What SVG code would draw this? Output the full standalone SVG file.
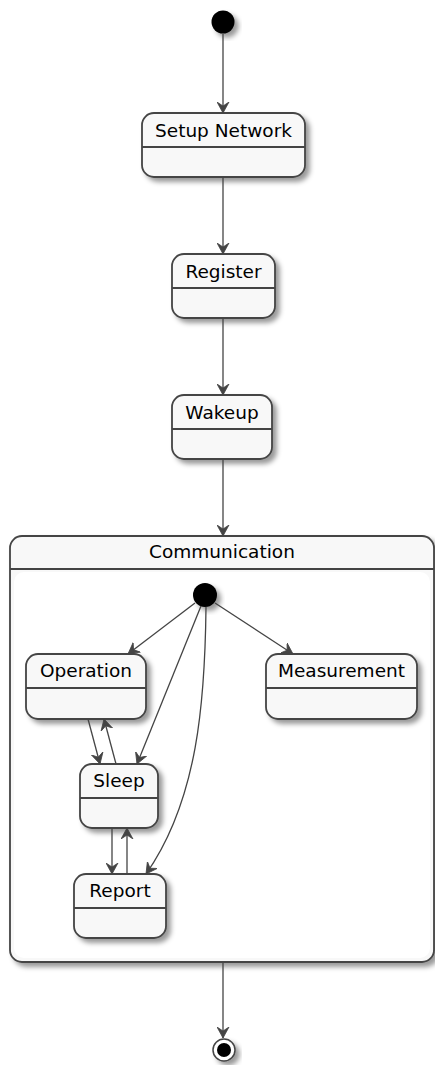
<svg xmlns="http://www.w3.org/2000/svg" width="435" height="1065" viewBox="0 0 435 1065">
  <style>
    .state { fill: #F8F8F8; stroke: #444444; stroke-width: 1.8; }
    .sep { stroke: #444444; stroke-width: 1.8; }
    .label { font-family: "DejaVu Sans", sans-serif; font-size: 18.5px; fill: #000000; text-anchor: middle; }
    .edge { fill: none; stroke: #444444; stroke-width: 1.3; }
  </style>
  <defs>
    <filter id="shadow" x="-20%" y="-20%" width="150%" height="150%">
      <feDropShadow dx="4" dy="4" stdDeviation="2.5" flood-color="#000000" flood-opacity="0.4"/>
    </filter>
    <marker id="arrow" viewBox="0 0 12 13" refX="11" refY="6.5" markerWidth="12" markerHeight="13" markerUnits="userSpaceOnUse" orient="auto">
      <path d="M0,0.5 L11,6.5 L0,12.5 L4,6.5 Z" fill="#444444" stroke="#444444" stroke-width="0.8" stroke-linejoin="round"/>
    </marker>
  </defs>

  <!-- outer start -->
  <g id="start">
    <circle cx="223" cy="22" r="11.5" fill="#000000" filter="url(#shadow)"/>
  </g>

  <g id="setup-network">
    <rect class="state" x="142" y="113" width="163" height="64" rx="12" filter="url(#shadow)"/>
    <line class="sep" x1="142" y1="147" x2="305" y2="147"/>
    <text class="label" x="223.5" y="137">Setup Network</text>
  </g>

  <g id="register">
    <rect class="state" x="172" y="254" width="103" height="64" rx="12" filter="url(#shadow)"/>
    <line class="sep" x1="172" y1="288" x2="275" y2="288"/>
    <text class="label" x="223.5" y="278">Register</text>
  </g>

  <g id="wakeup">
    <rect class="state" x="172" y="395" width="100" height="64" rx="12" filter="url(#shadow)"/>
    <line class="sep" x1="172" y1="429" x2="272" y2="429"/>
    <text class="label" x="222" y="419">Wakeup</text>
  </g>

  <!-- composite state -->
  <g id="communication">
    <rect class="state" x="10" y="536" width="424" height="426" rx="12" filter="url(#shadow)"/>
    <line class="sep" x1="10" y1="569" x2="434" y2="569"/>
    <rect x="14" y="572" width="416" height="386" rx="10" fill="#FFFFFF" stroke="none"/>
    <text class="label" x="222" y="558">Communication</text>
  </g>

  <g id="inner-start">
    <circle cx="205" cy="595" r="12" fill="#000000" filter="url(#shadow)"/>
  </g>

  <g id="operation">
    <rect class="state" x="26" y="654" width="120" height="65" rx="12" filter="url(#shadow)"/>
    <line class="sep" x1="26" y1="688" x2="146" y2="688"/>
    <text class="label" x="86" y="677">Operation</text>
  </g>

  <g id="measurement">
    <rect class="state" x="266" y="654" width="151" height="65" rx="12" filter="url(#shadow)"/>
    <line class="sep" x1="266" y1="688" x2="417" y2="688"/>
    <text class="label" x="341.5" y="677">Measurement</text>
  </g>

  <g id="sleep">
    <rect class="state" x="80" y="764" width="78" height="64" rx="12" filter="url(#shadow)"/>
    <line class="sep" x1="80" y1="798" x2="158" y2="798"/>
    <text class="label" x="119" y="787">Sleep</text>
  </g>

  <g id="report">
    <rect class="state" x="74" y="874" width="92" height="64" rx="12" filter="url(#shadow)"/>
    <line class="sep" x1="74" y1="908" x2="166" y2="908"/>
    <text class="label" x="120" y="897">Report</text>
  </g>

  <g id="end">
    <circle cx="224" cy="1050" r="11" fill="#FFFFFF" stroke="#444444" stroke-width="1.5" filter="url(#shadow)"/>
    <circle cx="224" cy="1050" r="7" fill="#000000"/>
  </g>

  <g id="connectors">
    <line class="edge" x1="223" y1="34" x2="223" y2="113" marker-end="url(#arrow)"/>
    <line class="edge" x1="223" y1="177" x2="223" y2="254" marker-end="url(#arrow)"/>
    <line class="edge" x1="223" y1="318" x2="223" y2="395" marker-end="url(#arrow)"/>
    <line class="edge" x1="223" y1="459" x2="223" y2="536" marker-end="url(#arrow)"/>
    <line class="edge" x1="223" y1="962" x2="223" y2="1038" marker-end="url(#arrow)"/>

    <line class="edge" x1="195" y1="603" x2="128" y2="654" marker-end="url(#arrow)"/>
    <line class="edge" x1="215" y1="603" x2="293" y2="654" marker-end="url(#arrow)"/>
    <line class="edge" x1="201" y1="606" x2="137" y2="764" marker-end="url(#arrow)"/>
    <path class="edge" d="M206,607 C205,700 198,800 146,874" marker-end="url(#arrow)"/>

    <line class="edge" x1="88" y1="719" x2="100" y2="764" marker-end="url(#arrow)"/>
    <line class="edge" x1="116" y1="764" x2="104" y2="719" marker-end="url(#arrow)"/>
    <line class="edge" x1="112" y1="828" x2="112" y2="874" marker-end="url(#arrow)"/>
    <line class="edge" x1="127" y1="874" x2="127" y2="828" marker-end="url(#arrow)"/>
  </g>
</svg>
